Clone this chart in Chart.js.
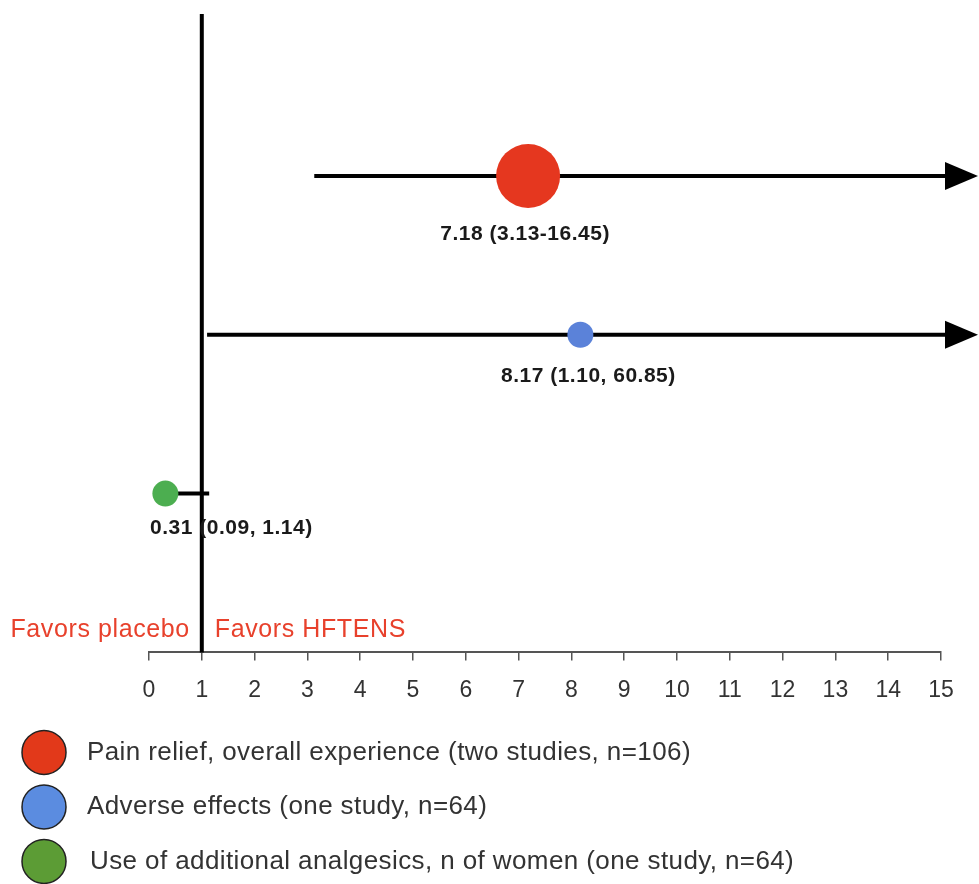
<!DOCTYPE html>
<html lang="en">
<head>
  <meta charset="UTF-8" />
  <title>HFTENS vs placebo</title>
  <style>
    html, body { margin: 0; padding: 0; background: #ffffff; }
    #wrap { width: 979px; height: 884px; }
  </style>
  <script src="https://cdn.jsdelivr.net/npm/chart.js@4.4.0/dist/chart.umd.min.js"></script>
</head>
<body>
  <div id="wrap"><canvas id="forest" width="979" height="884"></canvas></div>

  <script>
    // data
    const outcomes = [
      'Pain relief, overall experience (two studies, n=106)',
      'Adverse effects (one study, n=64)',
      'Use of additional analgesics, n of women (one study, n=64)'
    ];
    const estimates = [7.18, 8.17, 0.31];
    const lowerCI = [3.13, 1.10, 0.09];
    const upperCI = [16.45, 60.85, 1.14];
    const ciLabels = ['7.18 (3.13-16.45)', '8.17 (1.10, 60.85)', '0.31 (0.09, 1.14)'];
    const rowPos = [3, 2, 1];
    const xTickValues = [0, 1, 2, 3, 4, 5, 6, 7, 8, 9, 10, 11, 12, 13, 14, 15];
    const refValue = 1;

    // styling
    const pointColors = ['#e5371f', '#5b82d9', '#4cae50'];
    const legendColors = ['#e2391a', '#5b8ce0', '#5c9c35'];
    const pointSizes = [32, 13, 13];
    const labelDx = [-3, 8, 66];
    const labelDy = [26, 28, 22];
    const FONT = '"Liberation Sans", Arial, Helvetica, sans-serif';

    const forestMarks = {
      id: 'forestMarks',
      beforeDatasetsDraw(chart) {
        const ctx = chart.ctx;
        const xs = chart.scales.x, ys = chart.scales.y;
        const area = chart.chartArea;
        ctx.save();
        ctx.strokeStyle = '#000';
        ctx.fillStyle = '#000';
        ctx.lineWidth = 4;
        // line of no effect
        const xr = xs.getPixelForValue(refValue);
        ctx.beginPath();
        ctx.moveTo(xr, area.top);
        ctx.lineTo(xr, area.bottom);
        ctx.stroke();
        // confidence intervals
        const tip = chart.width - 1;
        const head = 33;
        rowPos.forEach((r, i) => {
          const y = ys.getPixelForValue(r);
          const x0 = xs.getPixelForValue(lowerCI[i]);
          let x1 = xs.getPixelForValue(upperCI[i]);
          const clipped = x1 > tip;
          if (clipped) x1 = tip - head + 4;
          ctx.beginPath();
          ctx.moveTo(x0, y);
          ctx.lineTo(x1, y);
          ctx.stroke();
          if (clipped) {
            ctx.beginPath();
            ctx.moveTo(tip, y);
            ctx.lineTo(tip - head, y - 14);
            ctx.lineTo(tip - head, y + 14);
            ctx.closePath();
            ctx.fill();
          }
        });
        ctx.restore();
      },
      afterDatasetsDraw(chart) {
        const ctx = chart.ctx;
        const xs = chart.scales.x, ys = chart.scales.y;
        const area = chart.chartArea;
        ctx.save();
        // estimate labels
        ctx.font = 'bold 21px ' + FONT;
        ctx.letterSpacing = '0.5px';
        ctx.fillStyle = '#1a1a1a';
        ctx.textAlign = 'center';
        ctx.textBaseline = 'middle';
        rowPos.forEach((r, i) => {
          const x = xs.getPixelForValue(estimates[i]) + labelDx[i];
          const y = ys.getPixelForValue(r) + pointSizes[i] + labelDy[i];
          ctx.fillText(ciLabels[i], x, y);
        });
        // favours labels
        const xr = xs.getPixelForValue(refValue);
        ctx.font = '25px ' + FONT;
        ctx.letterSpacing = '0.6px';
        ctx.fillStyle = '#e8412c';
        ctx.textAlign = 'right';
        ctx.fillText('Favors placebo', xr - 12, area.bottom - 22);
        ctx.textAlign = 'left';
        ctx.fillText('Favors HFTENS', xr + 13, area.bottom - 22);
        // legend
        ctx.font = '26px ' + FONT;
        ctx.letterSpacing = '0.4px';
        outcomes.forEach((label, i) => {
          const cy = area.bottom + 100 + i * 54.5;
          ctx.beginPath();
          ctx.arc(44, cy, 22, 0, Math.PI * 2);
          ctx.fillStyle = legendColors[i];
          ctx.fill();
          ctx.lineWidth = 1.5;
          ctx.strokeStyle = '#222';
          ctx.stroke();
          ctx.fillStyle = '#333';
          ctx.fillText(label, i === 2 ? 90 : 87, cy);
        });
        ctx.restore();
      }
    };

    const ctx = document.getElementById('forest').getContext('2d');
    new Chart(ctx, {
      type: 'scatter',
      data: {
        datasets: outcomes.map((name, i) => ({
          label: name,
          data: [{ x: estimates[i], y: rowPos[i] }],
          backgroundColor: pointColors[i],
          borderColor: pointColors[i],
          borderWidth: 0,
          pointRadius: pointSizes[i],
          pointHoverRadius: pointSizes[i],
          clip: false
        }))
      },
      options: {
        responsive: false,
        animation: false,
        layout: { autoPadding: false, padding: { left: 149, right: 38, top: 14, bottom: 164 } },
        plugins: {
          legend: { display: false },
          tooltip: { enabled: false }
        },
        scales: {
          x: {
            type: 'linear',
            min: 0,
            max: 15,
            afterBuildTicks: axis => { axis.ticks = xTickValues.map(v => ({ value: v })); },
            grid: { drawOnChartArea: false, drawTicks: true, tickLength: 8, color: '#555', lineWidth: 1.5 },
            border: { display: true, color: '#555', width: 2 },
            ticks: { color: '#333', padding: 16, font: { family: FONT, size: 23 } }
          },
          y: {
            min: 0,
            max: 4.02,
            display: false
          }
        }
      },
      plugins: [forestMarks]
    });
  </script>
</body>
</html>
